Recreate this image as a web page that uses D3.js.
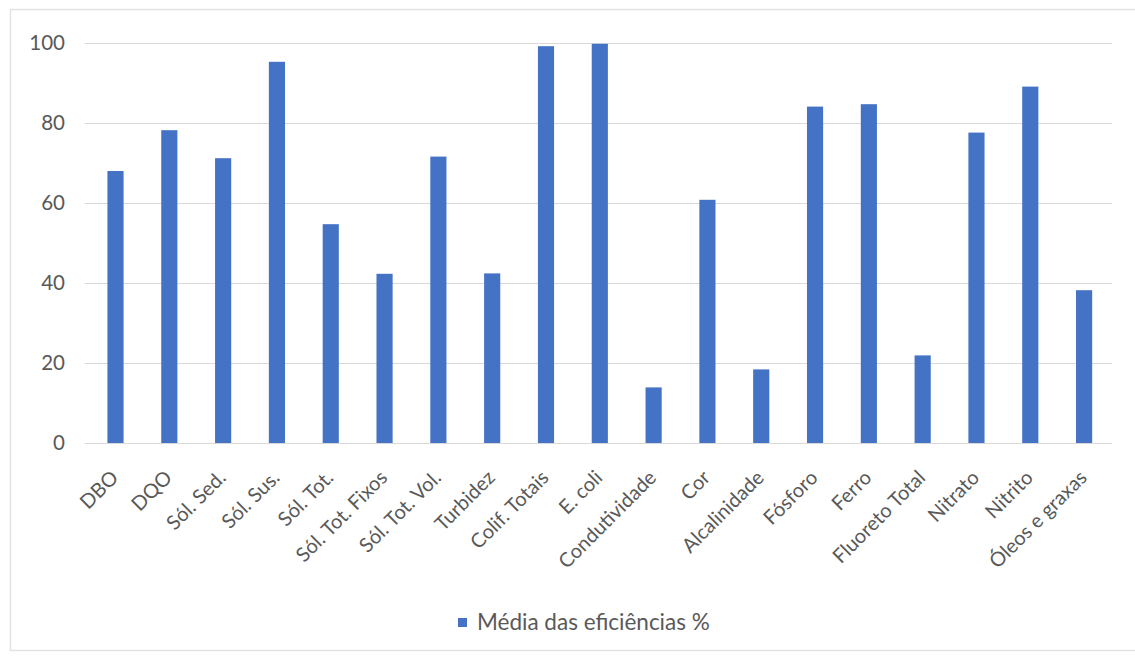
<!DOCTYPE html>
<html>
<head>
<meta charset="utf-8">
<script src="https://cdn.jsdelivr.net/npm/d3@7"></script>
<style>
  html, body { margin: 0; padding: 0; background: #ffffff; }
  svg { display: block; }
  text { font-family: Lato, "Open Sans", sans-serif; fill: #595959; }
</style>
</head>
<body>
<svg id="chart" width="1135" height="663"></svg>
<script>
const categories = ["DBO", "DQO", "Sól. Sed.", "Sól. Sus.", "Sól. Tot.", "Sól. Tot. Fixos", "Sól. Tot. Vol.", "Turbidez", "Colif. Totais", "E. coli", "Condutividade", "Cor", "Alcalinidade", "Fósforo", "Ferro", "Fluoreto Total", "Nitrato", "Nitrito", "Óleos e graxas"];
const values = [68, 78.2, 71.2, 95.3, 54.7, 42.3, 71.6, 42.4, 99.2, 99.8, 13.9, 60.8, 18.4, 84.1, 84.7, 21.9, 77.6, 89.1, 38.2];
const yTicks = [0, 20, 40, 60, 80, 100];
const seriesName = "Média das eficiências %";

const svg = d3.select("#chart");
const plot = { left: 88.6, right: 1111, top: 43, bottom: 443 };
const barColor = "#4472C4";

// outer chart border
svg.append("rect")
  .attr("x", 10.5).attr("y", 9.5)
  .attr("width", 1140).attr("height", 641)
  .attr("fill", "none").attr("stroke", "#e3e3e3").attr("stroke-width", 1.5);

const x = d3.scaleBand()
  .domain(categories)
  .range([plot.left, plot.right])
  .paddingInner(0.7)
  .paddingOuter(0.35);

const y = d3.scaleLinear()
  .domain([0, 100])
  .range([plot.bottom, plot.top]);

// gridlines + y labels
const yAxis = d3.axisLeft(y).tickValues(yTicks).tickSize(-(1112 - 85)).tickPadding(20).tickFormat(d3.format("d"));
const gy = svg.append("g").attr("transform", "translate(85,0)").call(yAxis);
gy.select(".domain").remove();
gy.selectAll(".tick line").attr("stroke", "#d9d9d9").attr("stroke-width", 1.2);
gy.selectAll(".tick text").attr("font-size", 20.5).attr("fill", "#595959");

// bars
svg.append("g").selectAll("rect")
  .data(categories)
  .join("rect")
  .attr("x", d => x(d))
  .attr("width", x.bandwidth())
  .attr("y", (d, i) => y(values[i]))
  .attr("height", (d, i) => y(0) - y(values[i]))
  .attr("fill", barColor);

// x axis labels
const xAxis = d3.axisBottom(x).tickSize(0).tickPadding(0);
const gx = svg.append("g").attr("transform", `translate(0,${plot.bottom})`).call(xAxis);
gx.select(".domain").remove();
gx.selectAll(".tick text")
  .attr("font-size", 20)
  .attr("fill", "#595959")
  .attr("text-anchor", "end")
  .attr("dy", "0.35em")
  .attr("transform", "translate(-1,31) rotate(-45)");

// legend
const legend = svg.append("g").attr("transform", "translate(458,618)");
legend.append("rect").attr("x", 0).attr("y", 0).attr("width", 9).attr("height", 9).attr("fill", barColor);
legend.append("text").attr("x", 19).attr("y", 4.5).attr("dy", "0.35em")
  .attr("font-size", 22.5).attr("fill", "#595959").text(seriesName);
</script>
</body>
</html>
